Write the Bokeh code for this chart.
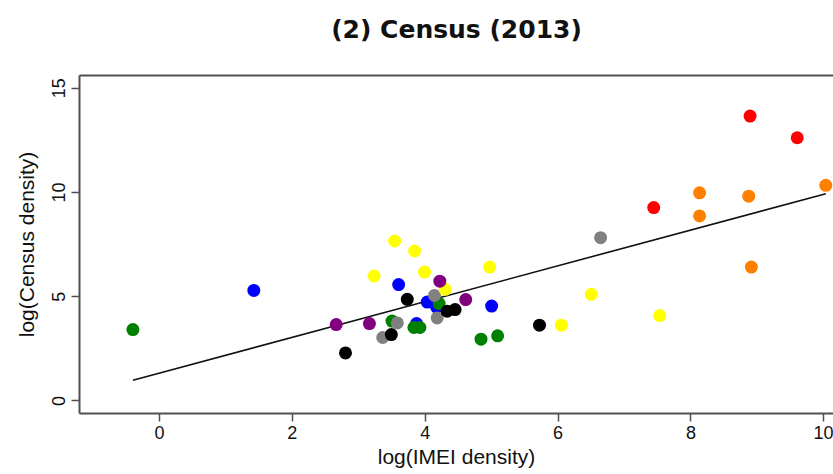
from bokeh.plotting import figure
from bokeh.models import Range1d, LinearAxis, FixedTicker
from bokeh.embed import file_html
from bokeh.resources import INLINE

# ---- data ----
green_x = [-0.40, 3.50, 3.83, 3.92, 4.21, 4.84, 5.09]
green_y = [3.42, 3.83, 3.52, 3.52, 4.67, 2.96, 3.12]

blue_x = [1.42, 3.60, 4.03, 4.17, 5.00, 3.87]
blue_y = [5.30, 5.58, 4.74, 4.50, 4.55, 3.71]

gray_x = [6.64, 4.14, 4.18, 3.58, 3.36]
gray_y = [7.83, 5.06, 3.98, 3.74, 3.04]

yellow_x = [3.54, 3.84, 3.23, 3.99, 4.97, 4.30, 6.50, 6.05, 7.53]
yellow_y = [7.67, 7.19, 5.99, 6.18, 6.42, 5.35, 5.11, 3.63, 4.09]

purple_x = [2.66, 3.16, 4.22, 4.61]
purple_y = [3.66, 3.71, 5.74, 4.86]

black_x = [2.80, 3.73, 4.33, 4.45, 3.49, 5.72]
black_y = [2.30, 4.87, 4.30, 4.38, 3.18, 3.63]

orange_x = [8.13, 8.13, 8.87, 10.03, 8.91]
orange_y = [9.98, 8.87, 9.82, 10.34, 6.42]

red_x = [8.89, 9.60, 7.44]
red_y = [13.66, 12.62, 9.27]

fit_intercept = 1.333
fit_slope = 0.858

x_ticks = [0, 2, 4, 6, 8, 10]
y_ticks = [0, 5, 10, 15]

title_text = "(2) Census (2013)"

groups = [
    (blue_x, blue_y, "#0000FF"),
    (green_x, green_y, "#008000"),
    (gray_x, gray_y, "#808080"),
    (yellow_x, yellow_y, "#FFFF00"),
    (purple_x, purple_y, "#800080"),
    (black_x, black_y, "#000000"),
    (orange_x, orange_y, "#FF8000"),
    (red_x, red_y, "#FF0000"),
]

FRAME = "#505050"
FONT = "Liberation Sans"

p = figure(width=833, height=474,
           x_range=Range1d(-1.204, 10.146), y_range=Range1d(-0.604, 15.606),
           output_backend="svg", toolbar_location=None, title_location=None,
           min_border_left=79, min_border_top=75, min_border_right=0, min_border_bottom=61)

p.outline_line_color = None
p.xgrid.visible = False
p.ygrid.visible = False
p.background_fill_color = "white"
p.border_fill_color = "white"

for ax in (p.xaxis[0], p.yaxis[0]):
    ax.axis_line_color = FRAME
    ax.axis_line_width = 2
    ax.major_tick_line_color = FRAME
    ax.major_tick_line_width = 1.5
    ax.major_tick_out = 8
    ax.major_tick_in = 0
    ax.minor_tick_line_color = None
    ax.major_label_text_font = FONT
    ax.major_label_text_font_size = "18px"
    ax.major_label_text_color = "#111111"
    ax.axis_label_text_font = FONT
    ax.axis_label_text_font_size = "21px"
    ax.axis_label_text_font_style = "normal"
    ax.axis_label_text_color = "#111111"

p.xaxis.ticker = FixedTicker(ticks=x_ticks)
p.yaxis.ticker = FixedTicker(ticks=y_ticks)
p.xaxis.axis_label = "log(IMEI density)"
p.yaxis.axis_label = "log(Census density)"
p.xaxis.major_label_standoff = 4
p.xaxis.axis_label_standoff = 3
p.yaxis.major_label_standoff = 6
p.yaxis.axis_label_standoff = 12
p.yaxis.major_label_orientation = "vertical"

# top border of the box, carrying the chart title as its label
top = LinearAxis(ticker=FixedTicker(ticks=[]), axis_line_color=FRAME, axis_line_width=2,
                 major_tick_line_color=None, minor_tick_line_color=None,
                 major_tick_out=0, major_tick_in=0,
                 major_label_text_font_size="0px", major_label_standoff=0,
                 axis_label=title_text, axis_label_standoff=32,
                 axis_label_text_font="DejaVu Sans", axis_label_text_font_style="bold",
                 axis_label_text_font_size="25px", axis_label_text_color="#111111")
p.add_layout(top, "above")

# fitted line over the range of the data
all_x = green_x + blue_x + gray_x + yellow_x + purple_x + black_x + orange_x + red_x
x0, x1 = min(all_x), max(all_x)
p.line([x0, x1], [fit_intercept + fit_slope * x0, fit_intercept + fit_slope * x1],
       line_color="#111111", line_width=1.6)

for xs, ys, c in groups:
    p.scatter(xs, ys, size=13, fill_color=c, line_color=None)

open("out.html", "w").write(file_html(p, INLINE))
